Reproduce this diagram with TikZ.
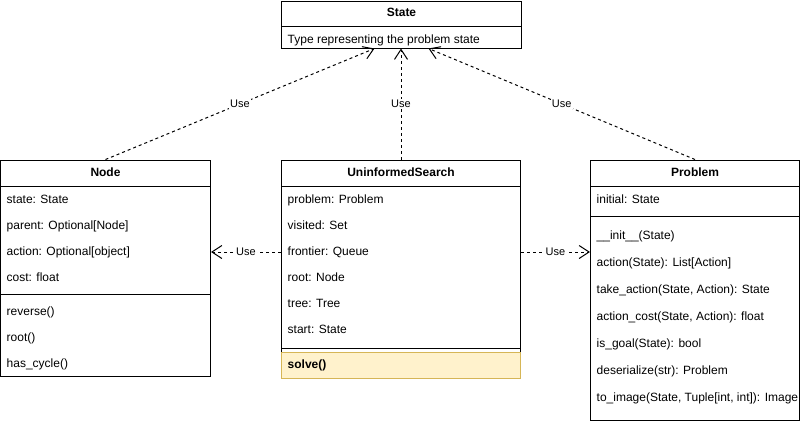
\documentclass[tikz,border=0pt]{standalone}
\usepackage{fontspec}
\setmainfont{Liberation Sans}
\usepackage{xcolor}
\usetikzlibrary{arrows.meta}

\definecolor{methodfill}{HTML}{FFF2CC}
\definecolor{methodline}{HTML}{D6B656}

\begin{document}
\begin{tikzpicture}[x=1pt, y=-1pt,
    classbox/.style={draw, line width=1pt, inner sep=0pt},
    classtitle/.style={font=\fontsize{12}{14}\selectfont\bfseries, inner sep=0pt, text height=9pt, text depth=3pt},
    member/.style={anchor=west, font=\fontsize{12}{14}\selectfont, inner sep=0pt, text height=9pt, text depth=3pt},
    usearrow/.style={line width=1pt, dash pattern=on 3pt off 3pt, -{Straight Barb[length=10pt,width=13pt]}},
    uselabel/.style={fill=white, font=\fontsize{11}{13}\selectfont, inner sep=1pt}]
        \useasboundingbox (0,0) rectangle (801,424);

        % State
        \node [classbox, minimum width=240pt, minimum height=47pt] (state) at (401.5, 24.5) {};
        \draw [line width=1pt] (281.5, 26.5) -- (521.5, 26.5);
        \node [classtitle] (state-title) at (401.5, 13.5) {State};
        \node [member] (state-desc) at (287.5, 40) {Type representing the problem state};

        % Node
        \node [classbox, minimum width=210pt, minimum height=216pt] (tnode) at (105.5, 268) {};
        \draw [line width=1pt] (0.5, 186.5) -- (210.5, 186.5);
        \draw [line width=1pt] (0.5, 294.5) -- (210.5, 294.5);
        \node [classtitle] (tnode-title) at (105.5, 173.5) {Node};
        \node [member] (tnode-state) at (6.5, 200) {state: State};
        \node [member] (tnode-parent) at (6.5, 226) {parent: Optional[Node]};
        \node [member] (tnode-action) at (6.5, 252) {action: Optional[object]};
        \node [member] (tnode-cost) at (6.5, 278) {cost: float};
        \node [member] (tnode-reverse) at (6.5, 312) {reverse()};
        \node [member] (tnode-root) at (6.5, 338) {root()};
        \node [member] (tnode-cycle) at (6.5, 364) {has\_cycle()};

        % UninformedSearch
        \node [classbox, minimum width=239pt, minimum height=218pt] (search) at (401, 269) {};
        \draw [line width=1pt] (281.5, 186.5) -- (520.5, 186.5);
        \draw [line width=1pt] (281.5, 348) -- (520.5, 348);
        \node [classbox, draw=methodline, fill=methodfill, minimum width=239pt, minimum height=26pt] (solvebox) at (401, 365) {};
        \node [classtitle] (search-title) at (401, 173.5) {UninformedSearch};
        \node [member] (search-problem) at (287.5, 200) {problem: Problem};
        \node [member] (search-visited) at (287.5, 226) {visited: Set};
        \node [member] (frontier) at (287.5, 252) {frontier: Queue};
        \node [member] (search-root) at (287.5, 278) {root: Node};
        \node [member] (search-tree) at (287.5, 304) {tree: Tree};
        \node [member] (search-start) at (287.5, 330) {start: State};
        \node [member, font=\fontsize{12}{14}\selectfont\bfseries] (search-solve) at (287.5, 365) {solve()};

        % Problem
        \node [classbox, minimum width=209pt, minimum height=260pt] (problem) at (695, 290) {};
        \draw [line width=1pt] (590.5, 186.5) -- (799.5, 186.5);
        \draw [line width=1pt] (590.5, 216.5) -- (799.5, 216.5);
        \node [classtitle] (problem-title) at (695, 173.5) {Problem};
        \node [member] (problem-initial) at (596.5, 200) {initial: State};
        \node [member] (problem-init) at (596.5, 236) {\_\_init\_\_(State)};
        \node [member] (problem-action) at (596.5, 263) {action(State): List[Action]};
        \node [member] (problem-take) at (596.5, 290) {take\_action(State, Action): State};
        \node [member] (problem-cost) at (596.5, 317) {action\_cost(State, Action): float};
        \node [member] (problem-goal) at (596.5, 344) {is\_goal(State): bool};
        \node [member] (problem-deser) at (596.5, 371) {deserialize(str): Problem};
        \node [member] (problem-image) at (596.5, 398) {to\_image(State, Tuple[int, int]): Image};

        % dependencies
        \draw [usearrow] (tnode.north) -- node [uselabel] (use-node) {Use} ([xshift=-27pt]state.south);
        \draw [usearrow] (search.north) -- node [uselabel] (use-search) {Use} (search.north |- state.south);
        \draw [usearrow] (problem.north) -- node [uselabel] (use-problem) {Use} ([xshift=27pt]state.south);
        \draw [usearrow] (search.west |- frontier) -- node [uselabel] (use-left) {Use} (tnode.east |- frontier);
        \draw [usearrow] (search.east |- frontier) -- node [uselabel] (use-right) {Use} (problem.west |- frontier);
    \end{tikzpicture}
\end{document}
